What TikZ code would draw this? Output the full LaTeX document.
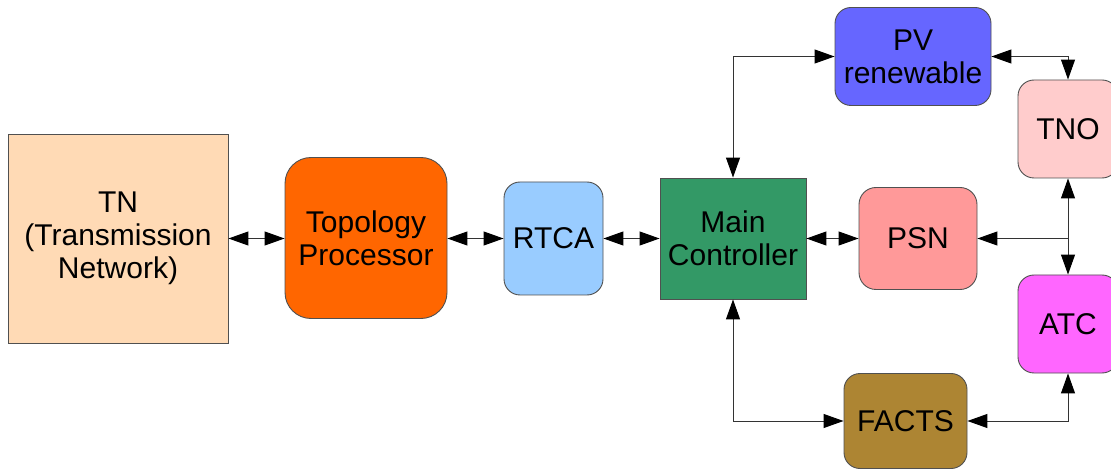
\documentclass[tikz,border=0pt]{standalone}
\usepackage{fontspec}
\setmainfont{Liberation Sans}
\usetikzlibrary{arrows.meta}
\definecolor{cTN}{HTML}{FFDAB5}
\definecolor{cTopo}{HTML}{FF6600}
\definecolor{cRTCA}{HTML}{99CCFF}
\definecolor{cMain}{HTML}{339966}
\definecolor{cPSN}{HTML}{FF9999}
\definecolor{cPV}{HTML}{6666FF}
\definecolor{cTNO}{HTML}{FFCCCC}
\definecolor{cATC}{HTML}{FF66FF}
\definecolor{cFACTS}{HTML}{AD8533}
\definecolor{cBorder}{HTML}{505050}
\definecolor{cLine}{HTML}{333333}
\tikzset{
  blk/.style={draw=cBorder, line width=0.9pt, align=center, inner sep=0pt,
    font=\fontsize{30}{33}\selectfont, text=black},
  tipA/.tip={Triangle[length=20pt,width=14pt,color=black]},
  conn/.style={draw=cLine, line width=1pt, arrows={tipA-tipA}},
  conn1/.style={draw=cLine, line width=1pt, arrows={-tipA}}
}
\begin{document}
\begin{tikzpicture}[x=1pt,y=-1pt]
\useasboundingbox (0,0) rectangle (1111,470);
\fill[white] (0,0) rectangle (1111,470);
\clip (0,0) rectangle (1111,470);
\node[blk, fill=cTN, minimum width=220pt, minimum height=209pt] (tn) at (118,238.5) {TN\\(Transmission\\Network)};
\node[blk, fill=cTopo, rounded corners=26pt, minimum width=162pt, minimum height=161pt] (topo) at (366,238) {Topology\\Processor};
\node[blk, fill=cRTCA, rounded corners=16pt, minimum width=99pt, minimum height=113pt] (rtca) at (553.5,238.5) {RTCA};
\node[blk, fill=cMain, minimum width=146pt, minimum height=121pt] (main) at (733,238.5) {Main\\Controller};
\node[blk, fill=cPSN, rounded corners=17pt, minimum width=118pt, minimum height=102pt] (psn) at (918,238.5) {PSN};
\node[blk, fill=cPV, rounded corners=16pt, minimum width=156pt, minimum height=98pt] (pv) at (913,56.5) {PV\\renewable};
\node[blk, fill=cTNO, rounded corners=16pt, minimum width=100pt, minimum height=98pt] (tno) at (1068,129) {TNO};
\node[blk, fill=cATC, rounded corners=16pt, minimum width=100pt, minimum height=98pt] (atc) at (1068,324) {ATC};
\node[blk, fill=cFACTS, rounded corners=16pt, minimum width=123pt, minimum height=95pt] (facts) at (905.5,421) {FACTS};
\draw[conn] (tn.east) -- (tn.east -| topo.west);
\draw[conn] (topo.east |- rtca.west) -- (rtca.west);
\draw[conn] (rtca.east) -- (rtca.east -| main.west);
\draw[conn] (main.east) -- (main.east -| psn.west);
\draw[conn] (main.north) |- (pv.west);
\draw[conn] (main.south) |- (facts.west);
\draw[conn] (pv.east) -| (tno.north);
\draw[conn] (tno.south) -- (atc.north);
\coordinate (br) at (tno.south |- psn.east);
\draw[conn1] (br) -- (psn.east);
\draw[conn] (atc.south) |- (facts.east);
\end{tikzpicture}
\end{document}
